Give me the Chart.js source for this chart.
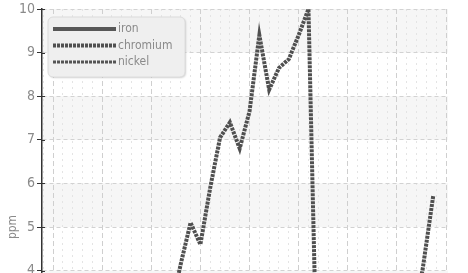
<!DOCTYPE html>
<html>
<head>
<meta charset="utf-8">
<script src="https://cdn.jsdelivr.net/npm/chart.js@4.4.1/dist/chart.umd.min.js"></script>
<style>
  html, body { margin: 0; padding: 0; background: #fff; overflow: hidden; }
  #wrap { width: 468px; height: 273px; overflow: hidden; }
</style>
</head>
<body>
<div id="wrap"><canvas id="chart" width="468" height="454"></canvas></div>
<script>
// sample times (hours) and readings in ppm
const hours    = [4, 5, 6, 7, 8, 9, 10, 11, 12, 13, 14, 15, 16, 17, 18, 19, 20, 21, 22, 23,
                  24, 25, 26, 27, 28, 29, 30, 31, 32, 33, 34, 35, 36, 37, 38, 39, 40, 41.6, 42.6, 43.7];
const iron     = [1.8, 1.9, 2.0, 2.1, 1.9, 2.2, 2.4, 2.3, 2.5, 2.6, 2.4, 2.7, 2.8, 2.6, 2.9, 3.0, 2.8, 3.1, 3.2, 3.0,
                  3.1, 3.3, 3.2, 3.0, 3.1, 2.9, 3.0, 2.8, 2.6, 2.5, 2.4, 2.6, 2.5, 2.3, 2.4, 2.6, 2.7, 2.8, 2.9, 3.0];
const chromium = [1.1, 0.9, 1.3, 1.6, 1.2, 1.8, 2.1, 1.7, 2.4, 2.0, 2.6, 2.9, 2.5, 3.1, 4.15, 5.1, 4.6, 5.9, 7.05, 7.4,
                  6.8, 7.65, 9.4, 8.15, 8.65, 8.85, 9.4, 10.0, 0.2, 0.4, 0.6, 0.9, 1.1, 1.4, 1.9, 2.2, 2.6, 3.0, 4.0, 5.72];
const nickel   = [0.6, 0.7, 0.8, 0.7, 0.9, 1.0, 1.1, 0.9, 1.2, 1.3, 1.1, 1.4, 1.5, 1.3, 1.6, 1.8, 1.7, 1.9, 2.0, 2.2,
                  2.1, 2.3, 2.5, 2.4, 2.2, 2.0, 1.9, 1.7, 1.5, 1.4, 1.3, 1.2, 1.4, 1.3, 1.5, 1.6, 1.5, 1.7, 1.8, 1.9];
const seriesNames = ['iron', 'chromium', 'nickel'];
const yRange = [0, 10];
const xRange = [3.88, 45.2];

const toPoints = vals => vals.map((v, i) => ({ x: hours[i], y: v }));

// alternating horizontal bands + inner tick halves
const bandsPlugin = {
  id: 'bands',
  beforeDraw(chart) {
    const { ctx, chartArea, scales: { y } } = chart;
    ctx.save();
    ctx.fillStyle = '#f6f6f6';
    for (let v = 1; v < 10; v += 2) {
      const top = y.getPixelForValue(v + 1);
      const bot = y.getPixelForValue(v);
      ctx.fillRect(chartArea.left, top, chartArea.right - chartArea.left, bot - top);
    }
    ctx.restore();
  },
  afterDraw(chart) {
    const { ctx, chartArea, scales: { y } } = chart;
    ctx.save();
    ctx.strokeStyle = '#333';
    ctx.lineWidth = 1;
    y.ticks.forEach(t => {
      const py = Math.round(y.getPixelForValue(t.value)) + 0.5;
      ctx.beginPath();
      ctx.moveTo(chartArea.left, py);
      ctx.lineTo(chartArea.left + 3, py);
      ctx.stroke();
    });
    ctx.restore();
  }
};

// legend box inside the plot, top left
const legendPlugin = {
  id: 'boxLegend',
  afterDraw(chart) {
    const ctx = chart.ctx;
    const bx = 48, by = 17, bw = 137, bh = 60;
    ctx.save();
    ctx.shadowColor = 'rgba(0,0,0,0.18)';
    ctx.shadowBlur = 2;
    ctx.shadowOffsetX = 1;
    ctx.shadowOffsetY = 1;
    ctx.fillStyle = '#efefef';
    ctx.beginPath();
    ctx.roundRect(bx, by, bw, bh, 5);
    ctx.fill();
    ctx.shadowColor = 'transparent';
    ctx.strokeStyle = '#dcdcdc';
    ctx.lineWidth = 1;
    ctx.stroke();

    chart.data.datasets.forEach((ds, i) => {
      const ly = 29 + i * 16.5;
      ctx.strokeStyle = ds.borderColor;
      ctx.lineWidth = ds.borderWidth;
      ctx.setLineDash(ds.borderDash || []);
      ctx.beginPath();
      ctx.moveTo(53, ly);
      ctx.lineTo(116, ly);
      ctx.stroke();
      ctx.setLineDash([]);
      ctx.fillStyle = '#8a8a8a';
      ctx.font = '12px "DejaVu Sans Condensed", "DejaVu Sans", sans-serif';
      ctx.textBaseline = 'middle';
      ctx.fillText(ds.label, 118, ly);
    });
    ctx.restore();
  }
};

const ctx = document.getElementById('chart').getContext('2d');
new Chart(ctx, {
  type: 'line',
  data: {
    datasets: [
      { label: seriesNames[0], data: toPoints(iron), borderColor: '#575757', borderWidth: 4, borderDash: [] },
      { label: seriesNames[1], data: toPoints(chromium), borderColor: '#505050', borderWidth: 4, borderDash: [3, 1] },
      { label: seriesNames[2], data: toPoints(nickel), borderColor: '#555555', borderWidth: 3, borderDash: [3, 1] }
    ]
  },
  options: {
    responsive: false,
    animation: false,
    layout: { padding: { left: 0, right: 20, top: 0, bottom: 0 } },
    elements: {
      line: { tension: 0, fill: false, borderCapStyle: 'butt' },
      point: { radius: 0, hoverRadius: 0 }
    },
    plugins: {
      legend: { display: false },
      tooltip: { enabled: false }
    },
    scales: {
      x: {
        type: 'linear',
        min: xRange[0],
        max: xRange[1],
        afterBuildTicks(scale) {
          const t = [];
          for (let h = 4; h <= 45; h++) t.push({ value: h });
          scale.ticks = t;
        },
        ticks: { display: false },
        border: {
          display: false,
          dash: ctx => (ctx.tick && ctx.tick.value % 5 === 0) ? [5, 3] : [2, 4]
        },
        grid: {
          drawTicks: false,
          color: ctx => (ctx.tick && ctx.tick.value % 5 === 0) ? '#cfcfcf' : '#e4e4e4',
          lineWidth: 1
        }
      },
      y: {
        min: yRange[0],
        max: yRange[1],
        afterFit(scale) { scale.width = 42; },
        ticks: {
          stepSize: 1,
          padding: 2,
          color: '#8a8a8a',
          font: { family: '"Liberation Sans Narrow", "DejaVu Sans Condensed", sans-serif', size: 14, lineHeight: 1 }
        },
        title: {
          display: true,
          text: 'ppm',
          color: '#8a8a8a',
          padding: { top: 6, bottom: 0 },
          font: { family: '"Liberation Sans Narrow", "DejaVu Sans Condensed", sans-serif', size: 12 }
        },
        border: { display: true, color: '#333', width: 1.5, dash: [4, 3] },
        grid: {
          color: '#d2d2d2',
          tickColor: '#333',
          tickLength: 5,
          tickBorderDash: [],
          lineWidth: 1
        }
      }
    }
  },
  plugins: [bandsPlugin, legendPlugin]
});
</script>
</body>
</html>
